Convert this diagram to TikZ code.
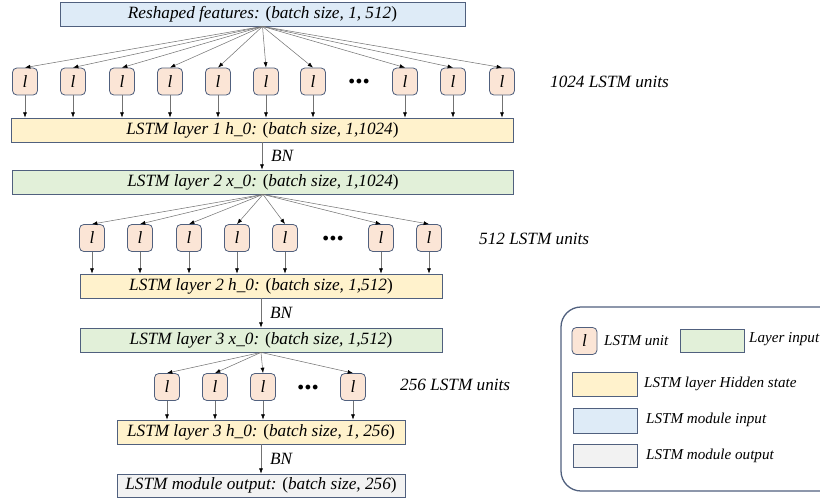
\documentclass[tikz,border=0pt]{standalone}
\usepackage{fontspec}
\setmainfont{Liberation Serif}
\usepackage{xcolor}
\usetikzlibrary{arrows.meta,positioning}
\definecolor{edge}{HTML}{50607E}
\definecolor{unitfill}{HTML}{FBE5D6}
\definecolor{infill}{HTML}{DEEBF7}
\definecolor{hidfill}{HTML}{FFF2CC}
\definecolor{xfill}{HTML}{E2F0D9}
\definecolor{outfill}{HTML}{F2F2F2}
\newcommand{\shape}[1]{\textup{(}#1\textup{)}}

\begin{document}
\begin{tikzpicture}[
  x=0.3mm,
  y=-0.3mm,
  font=\itshape\fontsize{14.7}{16}\selectfont,
  layer/.style={draw=edge, line width=0.7pt, minimum height=7.2mm, inner sep=0pt},
  unit/.style={draw=edge, line width=0.7pt, fill=unitfill, rounded corners=1.3mm, minimum width=7.5mm, minimum height=8.1mm, inner sep=0pt},
  key/.style={draw=edge, line width=0.7pt, minimum width=19.4mm, minimum height=7.1mm, inner sep=0pt},
  keytext/.style={anchor=west, font=\itshape\fontsize{12.9}{14}\selectfont},
  arrow/.style={-{Latex[length=1.6mm,width=1.2mm,color=black]}, draw=black!55, line width=0.45pt},
  dots/.style={font=\bfseries\fontsize{25}{25}\selectfont, inner sep=0pt},
  bn/.style={right, xshift=1.5mm}
]
  \useasboundingbox (0,0) rectangle (820,499);

  % layer boxes
  \node[layer, fill=infill, minimum width=121.5mm] (feat) at (262.5,14) {Reshaped features: \shape{batch size, 1, 512}};
  \node[layer, fill=hidfill, minimum width=150.5mm] (h1) at (262.5,130) {LSTM layer 1 h\_0: \shape{batch size, 1,1024}};
  \node[layer, fill=xfill, minimum width=150.5mm] (x2) at (263,182) {LSTM layer 2 x\_0: \shape{batch size, 1,1024}};
  \node[layer, fill=hidfill, minimum width=108.6mm] (h2) at (261,286) {LSTM layer 2 h\_0: \shape{batch size, 1,512}};
  \node[layer, fill=xfill, minimum width=108.6mm] (x3) at (261,340) {LSTM layer 3 x\_0: \shape{batch size, 1,512}};
  \node[layer, fill=hidfill, minimum width=86.4mm] (h3) at (261,432) {LSTM layer 3 h\_0: \shape{batch size, 1, 256}};
  \node[layer, fill=outfill, minimum width=86.4mm, minimum height=6.9mm] (out) at (261,485.5) {LSTM module output: \shape{batch size, 256}};

  % first LSTM layer: 1024 units
  \foreach \px [count=\i] in {25,73,122,170,218,266,313,405,453,502} {
    \node[unit] (ua\i) at (\px,81.5) {l};
    \draw[arrow] (feat.south) -- (ua\i.north);
    \draw[arrow] (ua\i.south) -- (ua\i.south |- h1.north);
  }
  \node[dots] (da) at (359,82) {...};
  \node[anchor=west] (na) at (546,82) {1024 LSTM units};

  % second LSTM layer: 512 units
  \foreach \px [count=\i] in {92,140,189,237,285,381,429} {
    \node[unit] (ub\i) at (\px,238) {l};
    \draw[arrow] (x2.south) -- (ub\i.north);
    \draw[arrow] (ub\i.south) -- (ub\i.south |- h2.north);
  }
  \node[dots] (db) at (333,238.5) {...};
  \node[anchor=west] (nb) at (475,239) {512 LSTM units};

  % third LSTM layer: 256 units
  \foreach \px [count=\i] in {167,215,263,353} {
    \node[unit] (uc\i) at (\px,387) {l};
    \draw[arrow] (x3.south) -- (uc\i.north);
    \draw[arrow] (uc\i.south) -- (uc\i.south |- h3.north);
  }
  \node[dots] (dc) at (308,387.5) {...};
  \node[anchor=west] (nc) at (396,385) {256 LSTM units};

  % batch norm between layers
  \draw[arrow] (h1.south -| 262,0) -- node[bn] {BN} (x2.north -| 262,0);
  \draw[arrow] (h2.south -| 261,0) -- node[bn] {BN} (x3.north -| 261,0);
  \draw[arrow] (h3.south -| 261,0) -- node[bn] {BN} (out.north -| 261,0);

  % legend
  \draw[edge, line width=1.1pt, rounded corners=6mm] (561,307) rectangle (860,491);
  \node[unit] (kunit) at (584.5,341) {l};
  \node[keytext] (kunitt) at (600,341) {LSTM unit};
  \node[key, fill=xfill, minimum height=6.9mm] (kx) at (712.5,340.5) {};
  \node[keytext] (kxt) at (745,339) {Layer input};
  \node[key, fill=hidfill] (kh) at (605,384.5) {};
  \node[keytext] (kht) at (640,384) {LSTM layer Hidden state};
  \node[key, fill=infill, minimum height=7.5mm] (kin) at (605.5,420.5) {};
  \node[keytext] (kint) at (642,420) {LSTM module input};
  \node[key, fill=outfill] (kout) at (605.5,456) {};
  \node[keytext] (koutt) at (642,456) {LSTM module output};
\end{tikzpicture}
\end{document}
